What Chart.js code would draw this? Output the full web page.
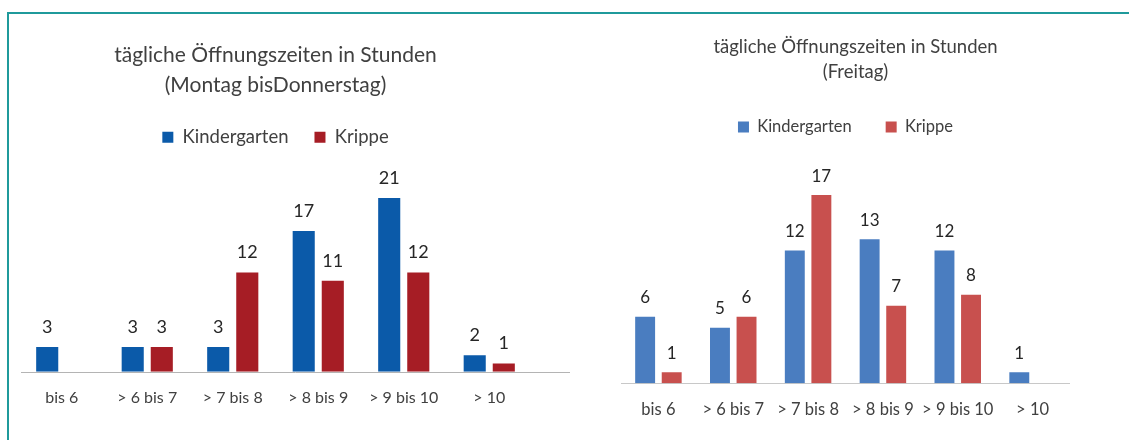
<!DOCTYPE html>
<html>
<head>
<meta charset="utf-8">
<script src="https://cdn.jsdelivr.net/npm/chart.js@4.4.0/dist/chart.umd.min.js"></script>
<style>
  html, body { margin: 0; padding: 0; background: #fff; width: 1129px; height: 440px; overflow: hidden; }
  #rahmen { position: absolute; left: 7px; top: 12px; width: 1130px; height: 440px;
            border-top: 2px solid #1f9a9b; border-left: 2px solid #1f9a9b; }
  #wrapL { position: absolute; left: 0; top: 0; width: 580px; height: 440px; }
  #wrapR { position: absolute; left: 590px; top: 0; width: 539px; height: 440px; }
</style>
</head>
<body>
<div id="rahmen"></div>
<div id="wrapL"><canvas id="chartMoDo"></canvas></div>
<div id="wrapR"><canvas id="chartFr"></canvas></div>
<script>
const kategorien = ['bis 6', '> 6 bis 7', '> 7 bis 8', '> 8 bis 9', '> 9 bis 10', '> 10'];
const kigaMoDo = [3, 3, 3, 17, 21, 2];
const krippeMoDo = [0, 3, 12, 11, 12, 1];
const kigaFr = [6, 5, 12, 13, 12, 1];
const krippeFr = [1, 6, 17, 7, 8, 0];

// Zahlen über den Balken (kein datalabels-Plugin verfügbar)
const wertePlugin = {
  id: 'werte',
  afterDatasetsDraw(chart, args, opts) {
    const ctx = chart.ctx;
    ctx.save();
    ctx.font = opts.size + 'px Lato';
    ctx.fillStyle = opts.color;
    ctx.textAlign = 'center';
    ctx.textBaseline = 'middle';
    chart.data.datasets.forEach((ds, i) => {
      chart.getDatasetMeta(i).data.forEach((bar, j) => {
        const v = ds.data[j];
        if (!v) return;
        ctx.fillText(v, bar.x, bar.y - opts.offset);
      });
    });
    ctx.restore();
  }
};

// Grundlinie der x-Achse
const grundlinie = {
  id: 'grundlinie',
  beforeDatasetsDraw(chart, args, opts) {
    const ctx = chart.ctx;
    const y = Math.round(chart.scales.y.getPixelForValue(0)) + 0.5;
    ctx.save();
    ctx.strokeStyle = opts.color;
    ctx.lineWidth = 1;
    ctx.beginPath();
    ctx.moveTo(chart.chartArea.left + opts.start, y);
    ctx.lineTo(chart.chartArea.right + opts.extend, y);
    ctx.stroke();
    ctx.restore();
  }
};

function config(titel, kiga, krippe, s) {
  return {
    type: 'bar',
    data: {
      labels: kategorien,
      datasets: [
        { label: 'Kindergarten', data: kiga, backgroundColor: s.blau,
          categoryPercentage: s.catPct, barPercentage: s.barPct },
        { label: 'Krippe', data: krippe, backgroundColor: s.rot,
          categoryPercentage: s.catPct, barPercentage: s.barPct }
      ]
    },
    options: {
      responsive: true,
      maintainAspectRatio: false,
      animation: false,
      layout: { padding: s.padding },
      plugins: {
        title: {
          display: true,
          text: titel,
          color: '#404040',
          font: { family: 'Lato', size: s.titelSize, weight: 'normal', lineHeight: s.titelLh },
          padding: s.titelPad
        },
        legend: {
          display: true,
          fullSize: s.legFull,
          labels: {
            color: '#404040',
            font: { family: 'Lato', size: s.legSize },
            boxWidth: s.box, boxHeight: s.box,
            padding: s.legPad
          }
        },
        tooltip: { enabled: false },
        werte: { size: s.wertSize, color: '#262626', offset: s.wertOffset },
        grundlinie: { color: s.linie, start: s.linieStart, extend: s.linieExtend }
      },
      scales: {
        x: {
          grid: { display: false, drawTicks: false },
          border: { display: false },
          ticks: { color: '#404040', font: { family: 'Lato', size: s.tickSize }, padding: s.tickPad, maxRotation: 0 }
        },
        y: {
          display: s.yBreite > 0,
          position: 'right',
          min: 0, max: s.yMax,
          grid: { display: false },
          border: { display: false },
          ticks: { display: false },
          afterFit(scale) { scale.width = s.yBreite; }
        }
      }
    },
    plugins: [wertePlugin, grundlinie]
  };
}

new Chart(document.getElementById('chartMoDo'), config(
  ['tägliche Öffnungszeiten in Stunden', '(Montag bisDonnerstag)'], kigaMoDo, krippeMoDo, {
    blau: '#0b5aa9', rot: '#a61d25', catPct: 0.68, barPct: 0.76,
    padding: { left: 19, right: 48, top: 0, bottom: 17 },
    titelSize: 21, titelLh: 1.4286, titelPad: { top: 40, bottom: 2 },
    legSize: 18.5, legFull: true, box: 11, legPad: 26,
    wertSize: 18, wertOffset: 20,
    tickSize: 16, tickPad: 16,
    linie: '#b4b4b4', linieStart: 2, linieExtend: 38,
    yMax: 26, yBreite: 0
  }));

new Chart(document.getElementById('chartFr'), config(
  ['tägliche Öffnungszeiten in Stunden', '(Freitag)'], kigaFr, krippeFr, {
    blau: '#4a7dc0', rot: '#c8504e', catPct: 0.71, barPct: 0.75,
    padding: { left: 31, right: 39, top: 0, bottom: 3 },
    titelSize: 18.5, titelLh: 1.351, titelPad: { top: 34.5, bottom: 0.25 },
    legSize: 16.5, legFull: false, box: 11, legPad: 34,
    wertSize: 17, wertOffset: 19,
    tickSize: 16.5, tickPad: 17,
    linie: '#c8c8c8', linieStart: 0, linieExtend: 0,
    yMax: 21.5, yBreite: 20
  }));
</script>
</body>
</html>
